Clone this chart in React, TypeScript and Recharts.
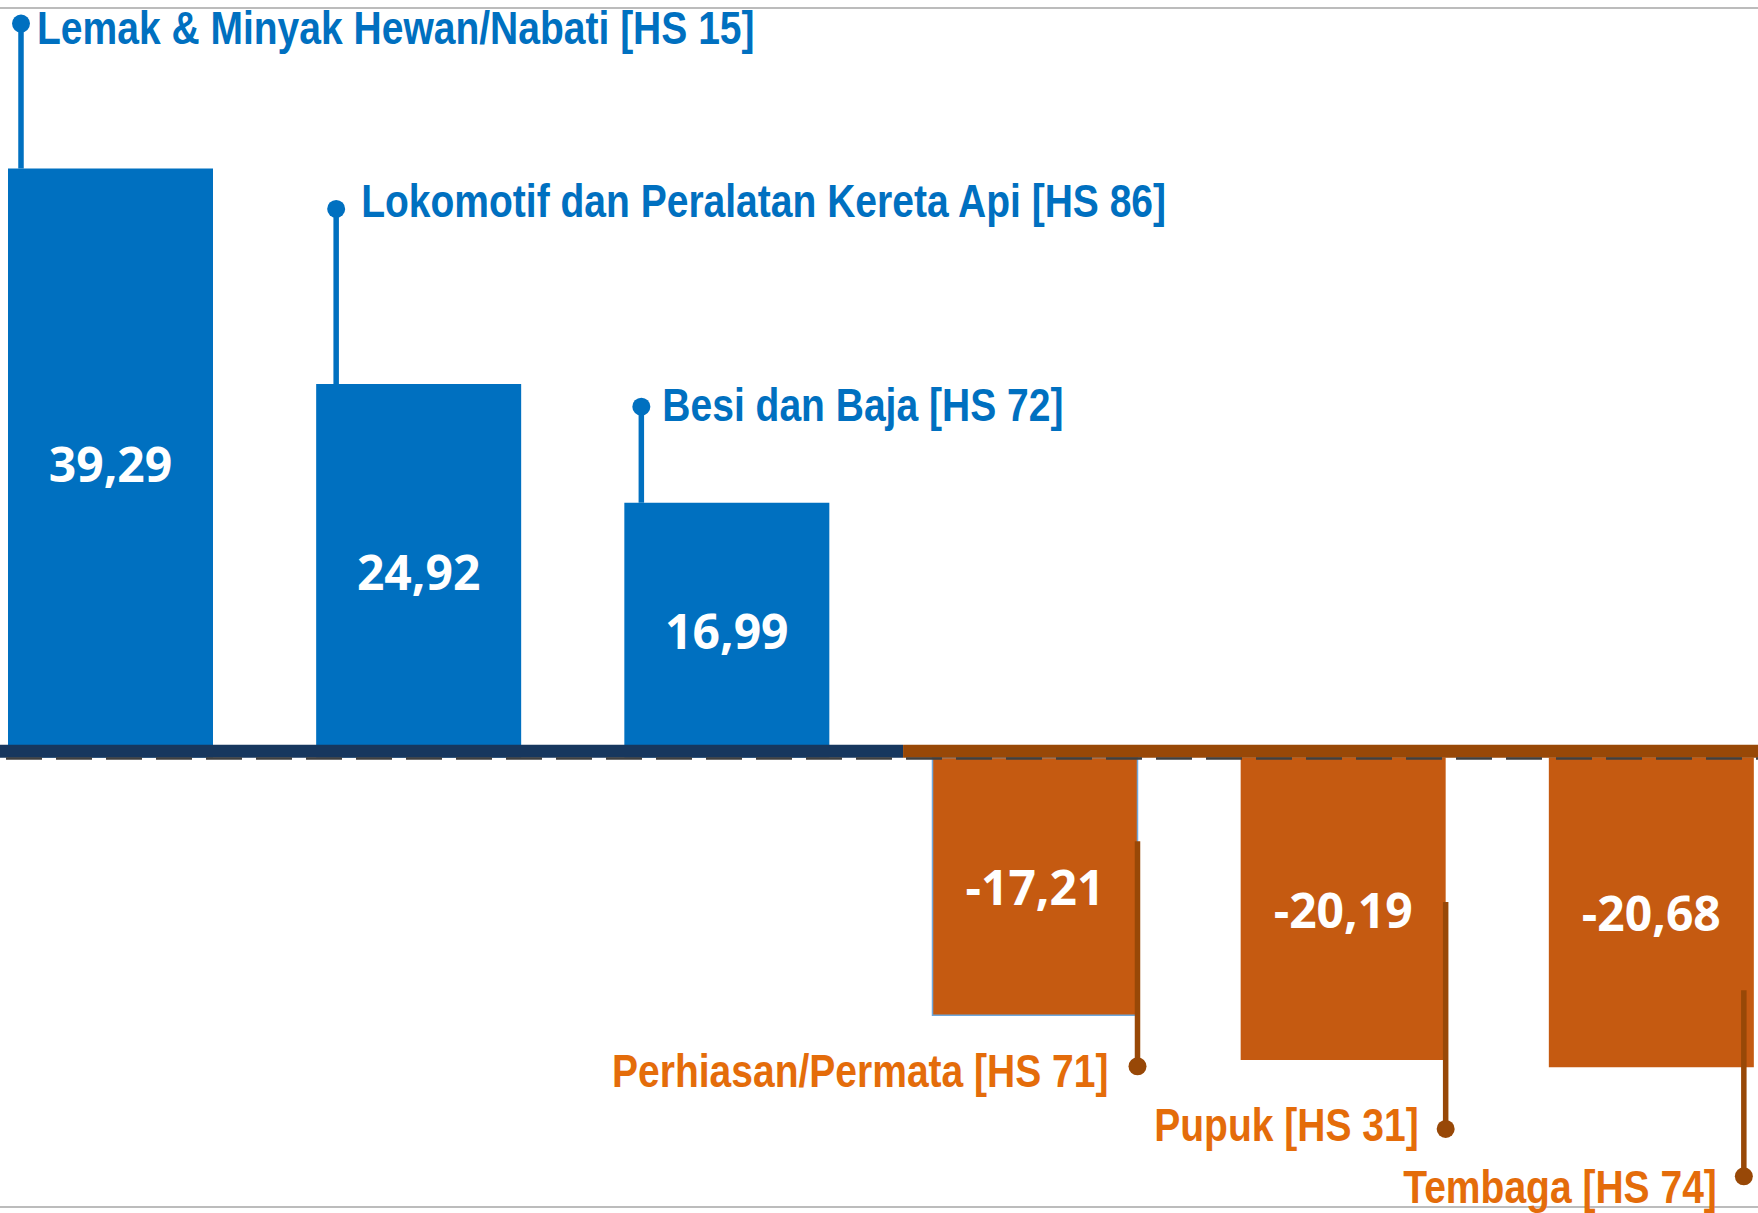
import React from 'react';
import { BarChart, Bar, XAxis, YAxis, Cell, LabelList, ReferenceLine, ReferenceArea } from 'recharts';

// komoditas dengan perubahan terbesar (%)
const categories = [
  'Lemak & Minyak Hewan/Nabati [HS 15]',
  'Lokomotif dan Peralatan Kereta Api [HS 86]',
  'Besi dan Baja [HS 72]',
  'Perhiasan/Permata [HS 71]',
  'Pupuk [HS 31]',
  'Tembaga [HS 74]',
];
const values = [39.29, 24.92, 16.99, -17.21, -20.19, -20.68];

const data = categories.map((name, i) => ({ name, value: values[i] }));

const BLUE = '#0070C0';
const ORANGE = '#C55A11';
const ORANGE_TEXT = '#E46C0A';
const BROWN = '#984807';
const NAVY = '#17375E';

// posisi garis penunjuk (px relatif ke batang)
const callouts = [
  { ax: 13, y0: 0, y1: -145, tx: 16, ty: 20 },
  { ax: 20, y0: 0, y1: -175, tx: 25, ty: 8 },
  { ax: 17, y0: 0, y1: -96, tx: 21, ty: 14 },
  { ax: 205, y0: -174, y1: 51, tx: -29, ty: 21 },
  { ax: 205, y0: -158, y1: 69, tx: -27, ty: 12 },
  { ax: 195, y0: -77, y1: 109, tx: -27, ty: 27 },
];

// batas warna pita sumbu (skala 0..5 melintang penuh)
const SPLIT = 2.561;

const fmt = (v: number) => v.toFixed(2).replace('.', ',');

const ValueLabel = (props: any) => {
  const { x, y, width, height, value } = props;
  const top = Math.min(y, y + height);
  const bottom = Math.max(y, y + height);
  return (
    <text
      x={x + width / 2}
      y={(top + bottom) / 2 + 19}
      textAnchor="middle"
      fill="#fff"
      fontFamily="'Open Sans', Lato, sans-serif"
      fontWeight={700}
      fontSize={48}
    >
      {fmt(value)}
    </text>
  );
};

const Callout = (props: any) => {
  const { x, y, width, height, index, value } = props;
  const c = callouts[index];
  const top = Math.min(y, y + height);
  const bottom = Math.max(y, y + height);
  const pos = values[index] >= 0;
  const edge = pos ? top : bottom;
  const lx = x + c.ax;
  const lineColor = pos ? BLUE : BROWN;
  return (
    <g>
      <line x1={lx} x2={lx} y1={edge + c.y0} y2={edge + c.y1} stroke={lineColor} strokeWidth={5.5} />
      <circle cx={lx} cy={edge + c.y1} r={9} fill={lineColor} />
      {/* Arial Narrow tidak ada, jadi Liberation Sans dipadatkan */}
      <text
        x={0}
        y={0}
        transform={`translate(${lx + c.tx} ${edge + c.y1 + c.ty}) scale(0.83 1)`}
        textAnchor={pos ? 'start' : 'end'}
        fill={pos ? BLUE : ORANGE_TEXT}
        fontFamily="'Liberation Sans', Arial, sans-serif"
        fontWeight="bold"
        fontSize={47}
      >
        {value}
      </text>
    </g>
  );
};

export default function App() {
  return (
    <div style={{ position: 'absolute', left: 0, top: 0, width: 1758, height: 1213, overflow: 'hidden', background: '#fff' }}>
      <div style={{ position: 'absolute', left: -44, top: 0 }}>
        <BarChart width={1849} height={1213} data={data} margin={{ top: 8, right: 0, bottom: 6, left: 0 }} barSize={205}>
          <XAxis dataKey="name" hide />
          <XAxis xAxisId="band" type="number" domain={[0, 5]} allowDataOverflow hide />
          <YAxis domain={[-30, 50]} hide />
          <ReferenceLine y={50} stroke="#a6a6a6" strokeWidth={1.5} />
          <ReferenceLine y={-30} stroke="#a6a6a6" strokeWidth={1.5} />
          <Bar dataKey="value" isAnimationActive={false}>
            {data.map((d, i) => (
              <Cell
                key={d.name}
                fill={d.value >= 0 ? BLUE : ORANGE}
                stroke={i === 3 ? '#6FA8DC' : 'none'}
                strokeWidth={i === 3 ? 1.5 : 0}
              />
            ))}
            <LabelList dataKey="value" content={ValueLabel} />
            <LabelList dataKey="name" content={Callout} />
          </Bar>
          <ReferenceArea xAxisId="band" x1={0} x2={SPLIT} y1={-0.02} y2={0.85} fill={NAVY} fillOpacity={1} stroke="none" ifOverflow="visible" zIndex={350} />
          <ReferenceArea xAxisId="band" x1={SPLIT} x2={5} y1={-0.02} y2={0.85} fill={BROWN} fillOpacity={1} stroke="none" ifOverflow="visible" zIndex={350} />
          <ReferenceLine y={-0.08} stroke="#404040" strokeWidth={2.5} strokeDasharray="36 14" zIndex={360} />
        </BarChart>
      </div>
    </div>
  );
}
